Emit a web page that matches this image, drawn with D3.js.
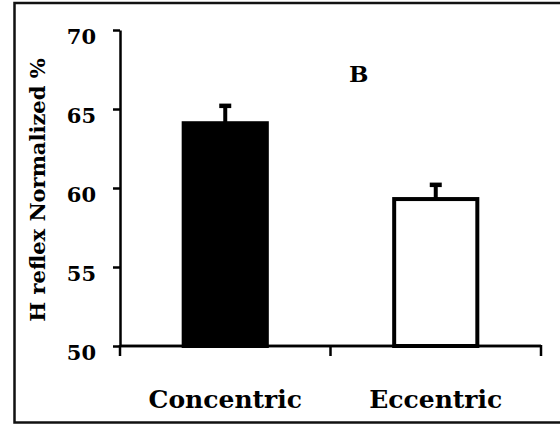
<!DOCTYPE html>
<html>
<head>
<meta charset="utf-8">
<script src="https://cdn.jsdelivr.net/npm/d3@7/dist/d3.min.js"></script>
<style>
  html, body { margin: 0; padding: 0; background: #fff; }
  svg { display: block; }
  text { font-family: "DejaVu Serif", "Liberation Serif", serif; font-weight: bold; fill: #000; }
</style>
</head>
<body>
<svg id="chart" width="560" height="425"></svg>
<script>
// H reflex amplitude by contraction type (mean ± SE)
const categories = ["Concentric", "Eccentric"];
const means = [64.1, 59.3];
const errors = [1.1, 0.9];
const fills = ["#000000", "#ffffff"];
const yTicks = [50, 55, 60, 65, 70];
const yTitle = "H reflex Normalized %";
const panelLabel = "B";

const svg = d3.select("#chart");

// frame around the panel (right side runs off the edge)
svg.append("rect")
  .attr("x", 14.5).attr("y", 3)
  .attr("width", 560).attr("height", 419.5)
  .attr("fill", "none").attr("stroke", "#111").attr("stroke-width", 2.5);

const plot = { left: 120, right: 541, top: 30, bottom: 346 };

const x = d3.scaleBand().domain(categories).range([plot.left, plot.right]).padding(0);
const y = d3.scaleLinear().domain([50, 70]).range([plot.bottom, plot.top]);
const barW = x.bandwidth() * 0.395;

// y axis
const yAxis = svg.append("g")
  .attr("transform", `translate(${plot.left},0)`)
  .call(d3.axisLeft(y).tickValues(yTicks).tickSize(7).tickSizeOuter(0).tickPadding(17));
yAxis.select(".domain").attr("stroke", "#000").attr("stroke-width", 2.5);
yAxis.selectAll(".tick line").attr("stroke", "#000").attr("stroke-width", 2.5);
yAxis.selectAll(".tick text")
  .attr("font-size", 21).attr("dy", "0.62em")
  .style("font-family", "DejaVu Serif").style("font-weight", "bold");

// x axis with ticks at category boundaries
const xAxis = svg.append("g").attr("transform", `translate(0,${plot.bottom})`);
xAxis.append("line")
  .attr("x1", plot.left).attr("x2", plot.right)
  .attr("stroke", "#000").attr("stroke-width", 2.5);
const boundaries = categories.map(c => x(c)).concat([x(categories[categories.length - 1]) + x.bandwidth()]);
xAxis.selectAll(".bnd").data(boundaries).join("line")
  .attr("class", "bnd")
  .attr("x1", d => d).attr("x2", d => d)
  .attr("y1", -1).attr("y2", 10)
  .attr("stroke", "#000").attr("stroke-width", 2.5);
xAxis.selectAll(".cat").data(categories).join("text")
  .attr("class", "cat")
  .attr("x", d => x(d) + x.bandwidth() / 2)
  .attr("y", 62)
  .attr("text-anchor", "middle")
  .attr("font-size", 25)
  .text(d => d);

// error bars (upper only) drawn behind the bars
const eb = svg.append("g");
categories.forEach((c, i) => {
  const cx = x(c) + x.bandwidth() / 2;
  eb.append("line")
    .attr("x1", cx).attr("x2", cx)
    .attr("y1", y(means[i])).attr("y2", y(means[i] + errors[i]))
    .attr("stroke", "#000").attr("stroke-width", 4);
  eb.append("line")
    .attr("x1", cx - 6).attr("x2", cx + 6)
    .attr("y1", y(means[i] + errors[i])).attr("y2", y(means[i] + errors[i]))
    .attr("stroke", "#000").attr("stroke-width", 4.5);
});

// bars
svg.append("g").selectAll("rect").data(categories).join("rect")
  .attr("x", d => x(d) + x.bandwidth() / 2 - barW / 2)
  .attr("y", (d, i) => y(means[i]))
  .attr("width", barW)
  .attr("height", (d, i) => y(50) - y(means[i]))
  .attr("fill", (d, i) => fills[i])
  .attr("stroke", "#000").attr("stroke-width", 4);

// redraw axis line over bar bottoms
svg.append("line")
  .attr("x1", plot.left).attr("x2", plot.right)
  .attr("y1", plot.bottom).attr("y2", plot.bottom)
  .attr("stroke", "#000").attr("stroke-width", 2.5);

// y axis title
svg.append("text")
  .attr("transform", `translate(45,${(plot.top + plot.bottom) / 2 + 2}) rotate(-90)`)
  .attr("text-anchor", "middle")
  .attr("font-size", 21)
  .text(yTitle);

// panel label
svg.append("text")
  .attr("x", 349).attr("y", 82)
  .attr("font-size", 23)
  .text(panelLabel);
</script>
</body>
</html>
